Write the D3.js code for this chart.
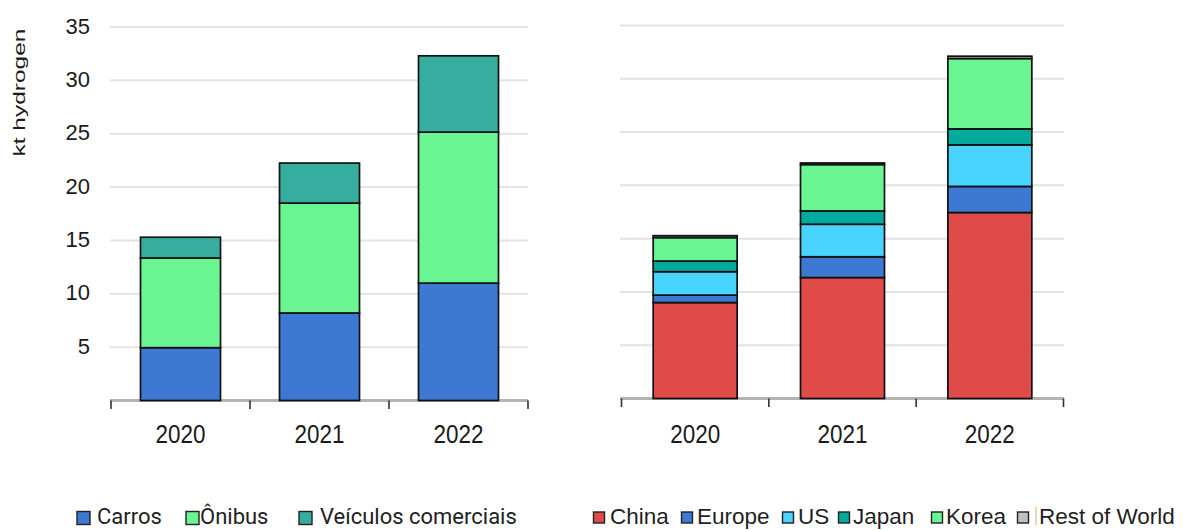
<!DOCTYPE html>
<html>
<head>
<meta charset="utf-8">
<script src="https://cdn.jsdelivr.net/npm/d3@7"></script>
<style>
  html, body { margin: 0; padding: 0; background: #fff; }
  svg { display: block; }
</style>
</head>
<body>
<div id="chart"></div>
<script>
// ---------- data ----------
const years = ["2020", "2021", "2022"];
const yTicks = [5, 10, 15, 20, 25, 30, 35];

// left panel: by vehicle type
const leftSeries = ["Carros", "Ônibus", "Veículos comerciais"];
const carros = [4.95, 8.2, 11.0];
const onibus = [8.4, 10.3, 14.15];
const comerciais = [1.95, 3.75, 7.15];

// right panel: by region
const rightSeries = ["China", "Europe", "US", "Japan", "Korea", "Rest of World"];
const china = [9.0, 11.35, 17.45];
const europe = [0.7, 1.95, 2.45];
const us = [2.2, 3.05, 3.9];
const japan = [1.0, 1.25, 1.5];
const korea = [2.2, 4.35, 6.6];
const restOfWorld = [0.18, 0.15, 0.22];

const leftColors = ["#3d79d2", "#69f592", "#37ad9f"];
const rightColors = ["#e04b49", "#3d79d2", "#49d3ff", "#00aa9c", "#69f592", "#c0c0c0"];

// ---------- build tables ----------
const leftRows = years.map((y, i) => ({ year: y, "Carros": carros[i], "Ônibus": onibus[i], "Veículos comerciais": comerciais[i] }));
const rightRows = years.map((y, i) => ({ year: y, "China": china[i], "Europe": europe[i], "US": us[i], "Japan": japan[i], "Korea": korea[i], "Rest of World": restOfWorld[i] }));

const W = 1187, H = 530;
const svg = d3.select("#chart").append("svg").attr("width", W).attr("height", H);

function panel(rows, keys, colors, cfg) {
  const x = d3.scaleBand().domain(years).range([cfg.x0, cfg.x1]).paddingInner(cfg.pad).paddingOuter(cfg.pad / 2);
  const y = d3.scaleLinear().domain([0, 35]).range([cfg.y0, cfg.y35]);
  const g = svg.append("g");

  // gridlines
  g.append("g").selectAll("line").data(yTicks).join("line")
    .attr("x1", cfg.gx0).attr("x2", cfg.gx1)
    .attr("y1", d => y(d)).attr("y2", d => y(d))
    .attr("stroke", "#e3e3e3").attr("stroke-width", 2);

  // y labels
  if (cfg.labels) {
    g.append("g").selectAll("text").data(yTicks).join("text")
      .attr("x", 90).attr("y", d => y(d) - 1)
      .attr("text-anchor", "end").attr("dominant-baseline", "central")
      .attr("font-family", "'Liberation Sans', Arial, sans-serif")
      .attr("font-size", 22).attr("fill", "#1a1a1a")
      .text(d => d);
  }

  // axis line
  g.append("line")
    .attr("x1", cfg.gx0).attr("x2", cfg.gx1)
    .attr("y1", y(0)).attr("y2", y(0))
    .attr("stroke", "#b3b3b3").attr("stroke-width", 3);

  // tick marks at band boundaries
  const bounds = years.map(d => x(d) - x.step() * x.paddingInner() / 2).concat([cfg.x1]);
  g.append("g").selectAll("line").data(bounds).join("line")
    .attr("x1", d => d).attr("x2", d => d)
    .attr("y1", y(0)).attr("y2", y(0) + 8.5)
    .attr("stroke", "#333").attr("stroke-width", 1.6);

  // bars
  const stacked = d3.stack().keys(keys)(rows);
  g.append("g").selectAll("g").data(stacked).join("g")
    .attr("fill", (d, i) => colors[i])
    .selectAll("rect").data(d => d).join("rect")
    .attr("x", d => x(d.data.year))
    .attr("width", x.bandwidth())
    .attr("y", d => y(d[1]))
    .attr("height", d => y(d[0]) - y(d[1]))
    .attr("stroke", "#111").attr("stroke-width", 1.7);

  // x labels
  g.append("g").selectAll("text").data(years).join("text")
    .attr("x", d => x(d) + x.bandwidth() / 2)
    .attr("y", 443)
    .attr("text-anchor", "middle")
    .attr("font-family", "'Liberation Sans', Arial, sans-serif")
    .attr("font-size", 25).attr("fill", "#1a1a1a")
    .attr("textLength", 50).attr("lengthAdjust", "spacingAndGlyphs")
    .text(d => d);
}

panel(leftRows, leftSeries, leftColors, { x0: 111, x1: 528, pad: 0.4245, gx0: 110, gx1: 528, y0: 400.5, y35: 27, labels: true });
panel(rightRows, rightSeries, rightColors, { x0: 621.5, x1: 1063.5, pad: 0.43, gx0: 620, gx1: 1064, y0: 398.5, y35: 25.5, labels: false });

// y title
svg.append("text")
  .attr("transform", "translate(25,92.5) rotate(-90)")
  .attr("text-anchor", "middle")
  .attr("font-family", "'Liberation Sans', Arial, sans-serif")
  .attr("font-size", 17).attr("fill", "#1a1a1a")
  .attr("textLength", 128).attr("lengthAdjust", "spacingAndGlyphs")
  .text("kt hydrogen");

// ---------- legends ----------
const leftLegX = [77, 186, 299];
const leftTextX = [97, 200, 320];
const lg = svg.append("g");
lg.selectAll("rect").data(leftSeries).join("rect")
  .attr("x", (d, i) => leftLegX[i]).attr("y", 511.5)
  .attr("width", 13).attr("height", 13)
  .attr("fill", (d, i) => leftColors[i]).attr("stroke", "#222").attr("stroke-width", 1.4);
lg.selectAll("text").data(leftSeries).join("text")
  .attr("x", (d, i) => leftTextX[i]).attr("y", 524)
  .attr("font-family", "Roboto, sans-serif").attr("font-size", 22).attr("fill", "#222")
  .text(d => d);

const rightLegX = [593.5, 681.5, 782.5, 838.5, 931.5, 1017.5];
const rightTextX = [610, 697, 798, 853, 946, 1039];
const rg = svg.append("g");
rg.selectAll("rect").data(rightSeries).join("rect")
  .attr("x", (d, i) => rightLegX[i]).attr("y", 512)
  .attr("width", 11).attr("height", 11)
  .attr("fill", (d, i) => rightColors[i]).attr("stroke", "#222").attr("stroke-width", 1.4);
rg.selectAll("text").data(rightSeries).join("text")
  .attr("x", (d, i) => rightTextX[i]).attr("y", 524)
  .attr("font-family", "'Liberation Sans', Arial, sans-serif").attr("font-size", 22.5).attr("fill", "#1f1f1f")
  .text(d => d);
rg.append("line")
  .attr("x1", 1036).attr("x2", 1036).attr("y1", 507).attr("y2", 525)
  .attr("stroke", "#f2b27a").attr("stroke-width", 1.2);
</script>
</body>
</html>
